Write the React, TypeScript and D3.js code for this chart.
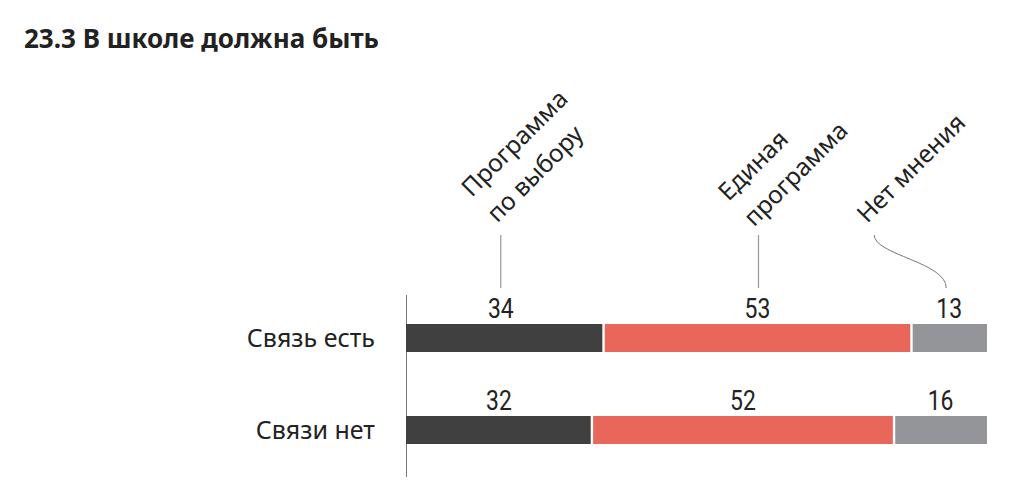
import * as d3 from 'd3'

// данные
const groups = ['Связь есть', 'Связи нет']
const keys = ['choice', 'single', 'none']
const keyLabels = [['Программа', 'по выбору'], ['Единая', 'программа'], ['Нет мнения']]
const choiceValues = [34, 32]
const singleValues = [53, 52]
const noneValues = [13, 16]
const colors = ['#404040', '#e8665a', '#939598']

const W = 1015
const H = 503
const margin = { left: 406, right: 28 }
const barH = 28
const rowY = [324, 416]

export default function App() {
  const rows = groups.map((g, i) => ({
    group: g,
    choice: choiceValues[i],
    single: singleValues[i],
    none: noneValues[i],
  }))
  const series = d3.stack<any>().keys(keys)(rows)

  const x = d3.scaleLinear().domain([0, 100]).range([margin.left, W - margin.right])
  const gap = 1.2
  const labelFont = "'Noto Sans', 'DejaVu Sans', sans-serif"
  const numFont = "'Roboto', 'Liberation Sans', sans-serif"

  // позиции подписей сверху (по первой строке)
  const centers = series.map(s => x((s[0][0] + s[0][1]) / 2))

  return (
    <svg width={W} height={H} style={{ position: 'absolute', left: 0, top: 0, background: '#fff' }}>
      <text x={24} y={48} fontFamily={labelFont} fontWeight={700} fontSize={26} fill="#222">
        23.3 В школе должна быть
      </text>

      {/* ось */}
      <line x1={x(0) + 0.5} x2={x(0) + 0.5} y1={295} y2={477} stroke="#777" strokeWidth={1} />

      {series.map((s, si) => (
        <g key={si}>
          {s.map((d, ri) => {
            const x0 = x(d[0]) + (si > 0 ? gap : 0)
            const x1 = x(d[1]) - (si < keys.length - 1 ? gap : 0)
            const cx = x((d[0] + d[1]) / 2) - (si === 0 && ri === 0 ? 4 : 0)
            return (
              <g key={ri}>
                <rect x={x0} y={rowY[ri]} width={x1 - x0} height={barH} fill={colors[si]} />
                <text
                  transform={`translate(${cx},${rowY[ri] - 6}) scale(0.85,1)`}
                  textAnchor="middle"
                  fontFamily={numFont}
                  fontSize={27}
                  fill="#222"
                >
                  {d[1] - d[0]}
                </text>
              </g>
            )
          })}
        </g>
      ))}

      {groups.map((g, i) => (
        <text
          key={g}
          x={375}
          y={rowY[i] + barH / 2 + 9}
          textAnchor="end"
          fontFamily={labelFont}
          fontSize={25}
          fill="#222"
        >
          {g}
        </text>
      ))}

      {/* выноски */}
      <line x1={centers[0] - 4} x2={centers[0] - 4} y1={235} y2={288} stroke="#999" strokeWidth={1.2} />
      <line x1={centers[1] + 1} x2={centers[1] + 1} y1={235} y2={288} stroke="#999" strokeWidth={1.2} />
      <path
        d={`M${centers[2] - 75},235 C${centers[2] - 75},255 ${centers[2] - 3},262 ${centers[2] - 3},288`}
        fill="none"
        stroke="#555"
        strokeWidth={0.8}
      />

      {keyLabels.map((lines, k) => {
        const ax = k === 2 ? centers[2] - 82 : centers[k] - (k === 0 ? 33 : 29)
        const ay = k === 2 ? 224 : k === 1 ? 202 : 198
        return (
          <text
            key={k}
            transform={`translate(${ax},${ay}) rotate(-45)`}
            fontFamily={labelFont}
            fontSize={24.5}
            fill="#222"
          >
            {lines.map((l, li) => (
              <tspan key={li} x={0} y={li * 36}>{l}</tspan>
            ))}
          </text>
        )
      })}
    </svg>
  )
}
